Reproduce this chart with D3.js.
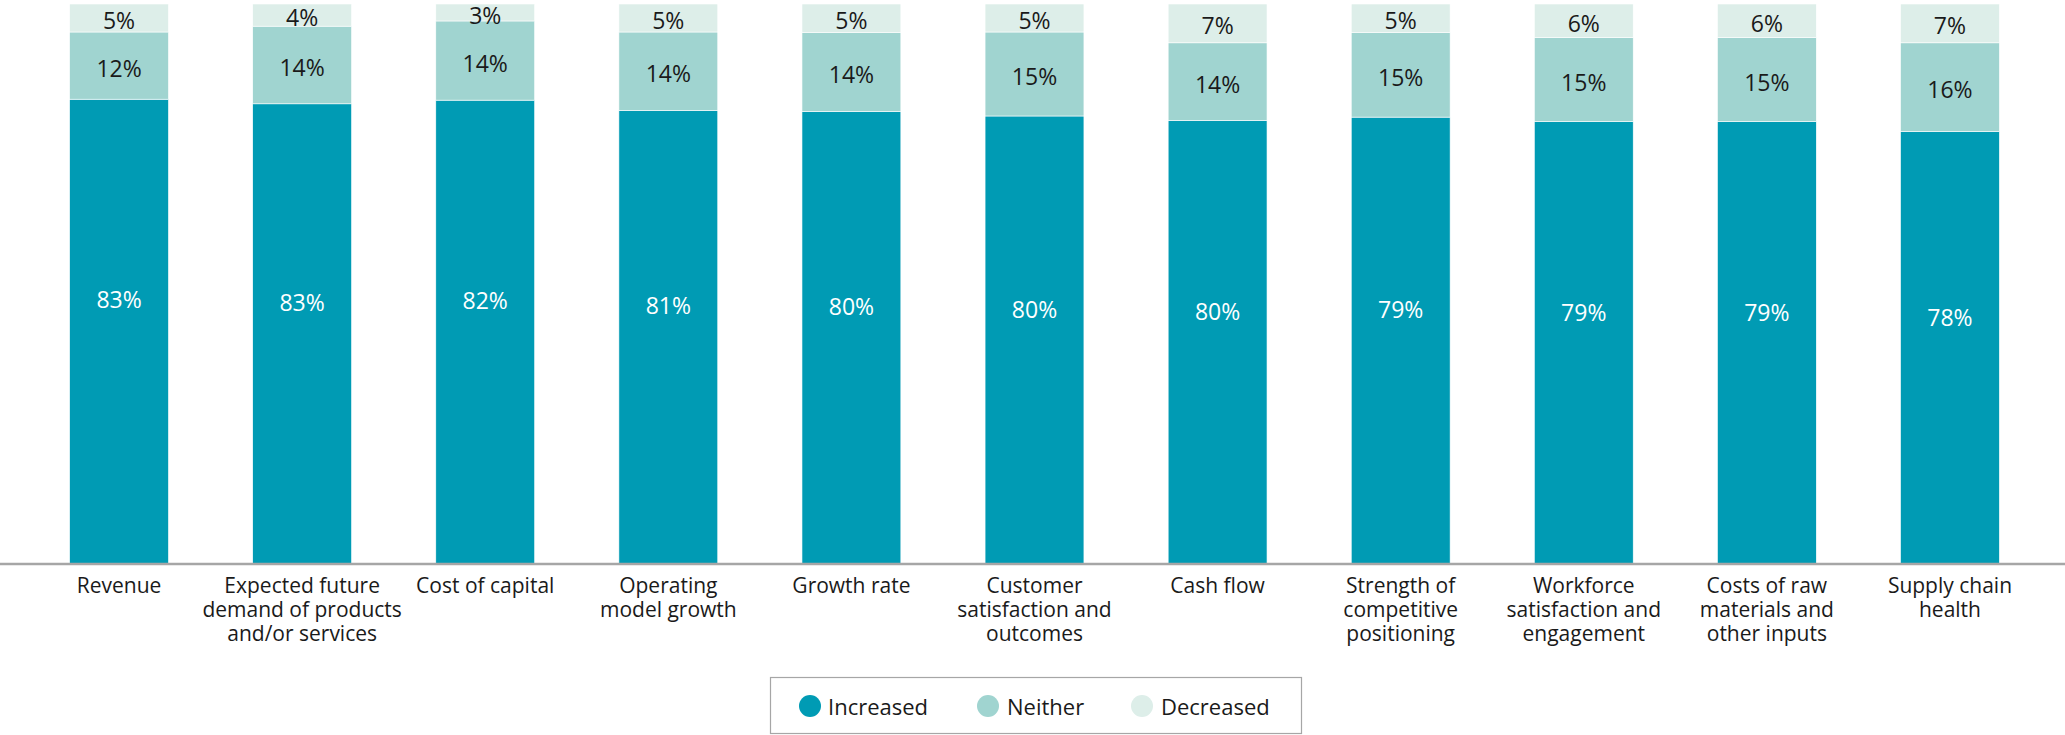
<!DOCTYPE html>
<html>
<head>
<meta charset="utf-8">
<script src="https://cdn.jsdelivr.net/npm/d3@7"></script>
<style>
body { margin: 0; background: #fff; }
text { font-family: "Open Sans", sans-serif; }
</style>
</head>
<body>
<div class="chart"></div>
<script>
// data
var categories = ["Revenue", "Expected future\ndemand of products\nand/or services", "Cost of capital", "Operating\nmodel growth", "Growth rate", "Customer\nsatisfaction and\noutcomes", "Cash flow", "Strength of\ncompetitive\npositioning", "Workforce\nsatisfaction and\nengagement", "Costs of raw\nmaterials and\nother inputs", "Supply chain\nhealth"]
var increased = [83, 83, 82, 81, 80, 80, 80, 79, 79, 79, 78]
var neither = [12, 14, 14, 14, 14, 15, 14, 15, 15, 15, 16]
var decreased = [5, 4, 3, 5, 5, 5, 7, 5, 6, 6, 7]
var seriesNames = ["Increased", "Neither", "Decreased"]
var colors = ["#009bb4", "#a0d4d0", "#ddeee9"]

var width = 2065
var height = 735
var svg = d3.select(".chart").append("svg").attr("width", width).attr("height", height)

var rows = categories.map(function(c, i) {
	return {cat: c, Increased: increased[i], Neither: neither[i], Decreased: decreased[i]}
})

//scales
var x = d3.scaleBand().domain(categories).range([27.5, 2041.5]).paddingInner(0.46).paddingOuter(0.23)
var y = d3.scaleLinear().domain([0, 1]).range([564, 4])
var color = d3.scaleOrdinal().domain(seriesNames).range(colors)

var stack = d3.stack().keys(seriesNames).offset(d3.stackOffsetExpand)
var series = stack(rows)

var groups = svg.append("g").selectAll("g").data(series).enter()
	.append("g").attr("class", function(d) { return "series " + d.key })
	.attr("fill", function(d) { return color(d.key) })

groups.selectAll("rect").data(function(d) { return d }).enter().append("rect")
	.attr("x", function(d) { return x(d.data.cat) })
	.attr("width", x.bandwidth())
	.attr("y", function(d) { return y(d[1]) })
	.attr("height", function(d) { return y(d[0]) - y(d[1]) })
	.attr("stroke", "#fff")
	.attr("stroke-width", 0.6)

//value labels
groups.selectAll("text").data(function(d) { d.forEach(function(p) { p.key = d.key }); return d }).enter().append("text")
	.attr("x", function(d) { return x(d.data.cat) + x.bandwidth() / 2 })
	.attr("y", function(d) {
		var top = y(d[1]), bottom = y(d[0])
		if (d.key == "Increased") return top + (bottom - top) * 0.43
		return Math.max((top + bottom) / 2 + 2, 15)
	})
	.attr("text-anchor", "middle")
	.attr("dominant-baseline", "central")
	.attr("fill", function(d) { return d.key == "Increased" ? "#fff" : "#1a1a1a" })
	.style("font-size", "23px")
	.text(function(d) { return d.data[d.key] + "%" })

//axis
var axis = svg.append("g").attr("transform", "translate(0,564)")
	.call(d3.axisBottom(x).tickSize(0).tickPadding(0))
axis.select(".domain").remove()
axis.append("line").attr("x1", 0).attr("x2", width).attr("y1", 0).attr("y2", 0)
	.attr("stroke", "#a6a6a6").attr("stroke-width", 2.5)
axis.selectAll(".tick text").each(function(d) {
	var t = d3.select(this)
	t.text(null).attr("y", 0).attr("dy", null)
		.attr("fill", "#1a1a1a").style("font-size", "21px").style("font-family", "'Open Sans', sans-serif")
	d.split("\n").forEach(function(line, i) {
		t.append("tspan").attr("x", 0).attr("y", 29 + i * 24).text(line)
	})
})

//legend
var legend = svg.append("g").attr("class", "legend")
legend.append("rect").attr("x", 770.5).attr("y", 677.5).attr("width", 531).attr("height", 56)
	.attr("fill", "#fff").attr("stroke", "#a6a6a6").attr("stroke-width", 1.2)
var legendX = [810, 988, 1142]
var items = legend.selectAll("g.item").data(seriesNames).enter().append("g").attr("class", "item")
	.attr("transform", function(d, i) { return "translate(" + legendX[i] + ",706)" })
items.append("circle").attr("r", 11).attr("fill", function(d) { return color(d) })
items.append("text").attr("x", function(d, i) { return i == 0 ? 18 : 19 })
	.attr("dominant-baseline", "central").attr("fill", "#1a1a1a")
	.style("font-size", "22px").text(function(d) { return d })
</script>
</body>
</html>
